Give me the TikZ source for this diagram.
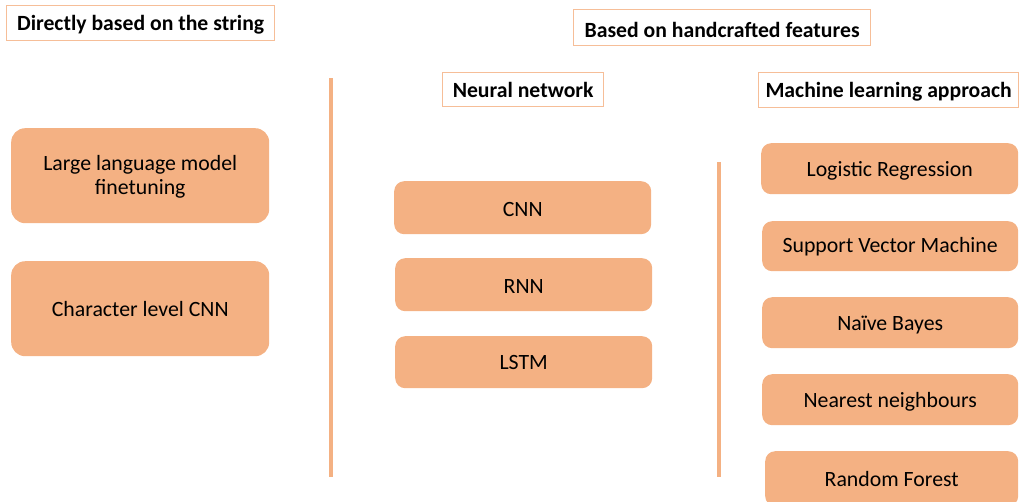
\documentclass[tikz,border=0pt]{standalone}
\usepackage{fontspec}
\setmainfont{Carlito}
\definecolor{boxfill}{HTML}{F4B183}
\definecolor{hdrline}{HTML}{F6BE98}
\newcommand{\dn}[1]{\raisebox{-2pt}[\height][\depth]{#1}}
\begin{document}
\begin{tikzpicture}[x=1pt,y=-1pt,
  hdr/.style={draw=hdrline,line width=1.3pt,fill=white,font=\fontsize{21.7}{26}\selectfont\bfseries,inner sep=0pt,anchor=north west},
  item/.style={fill=boxfill,rounded corners=14pt,inner sep=0pt,font=\fontsize{21.8}{26}\selectfont,align=center,anchor=north west},
  sep/.style={draw=boxfill,line width=4pt}]
\useasboundingbox (0,0) rectangle (1020,501);
% headers
\node[hdr,minimum width=268pt,minimum height=35pt] (h1) at (6,5) {\dn{Directly based on the string}};
\node[hdr,minimum width=297pt,minimum height=36pt] (h2) at (573,9) {\dn{Based on handcrafted features}};
\node[hdr,minimum width=161pt,minimum height=34pt] (h3) at (442,72) {Neural network};
\node[hdr,minimum width=260pt,minimum height=35pt] (h4) at (758,72) {\dn{Machine learning approach}};
% separators
\coordinate (s1a) at (331,78); \coordinate (s1b) at (331,477);
\coordinate (s2a) at (719,162); \coordinate (s2b) at (719,477);
\draw[sep] (s1a) -- (s1b);
\draw[sep] (s2a) -- (s2b);
% left column
\node[item,minimum width=258pt,minimum height=95pt] (llm) at (11,128) {\dn{Large language model}\\finetuning};
\node[item,minimum width=258pt,minimum height=95pt] (ccnn) at (11,261) {Character level CNN};
% middle column
\node[item,minimum width=257pt,minimum height=53pt,rounded corners=10pt] (cnn) at (394,181) {\dn{CNN}};
\node[item,minimum width=257pt,minimum height=53pt,rounded corners=10pt] (rnn) at (395,258) {\dn{RNN}};
\node[item,minimum width=257pt,minimum height=52pt,rounded corners=10pt] (lstm) at (395,336) {LSTM};
% right column
\node[item,minimum width=257pt,minimum height=51pt,rounded corners=10pt] (lr) at (761,143) {\dn{Logistic Regression}};
\node[item,minimum width=256pt,minimum height=50pt,rounded corners=10pt] (svm) at (762,221) {Support Vector Machine};
\node[item,minimum width=256pt,minimum height=51pt,rounded corners=10pt] (nb) at (762,297) {\dn{Naïve Bayes}};
\node[item,minimum width=256pt,minimum height=51pt,rounded corners=10pt] (nn) at (762,374) {\dn{Nearest neighbours}};
\node[item,minimum width=253pt,minimum height=55pt,rounded corners=10pt] (rf) at (765,451) {Random Forest};
\end{tikzpicture}
\end{document}
